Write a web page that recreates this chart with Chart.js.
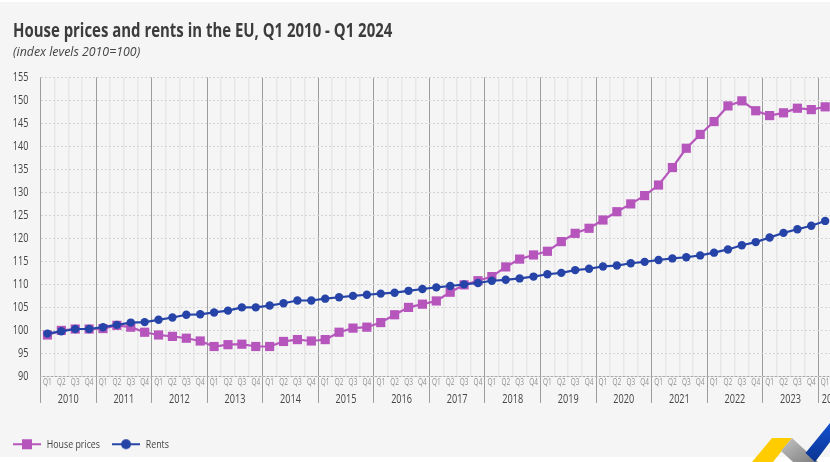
<!DOCTYPE html>
<html><head><meta charset="utf-8">
<script src="https://cdn.jsdelivr.net/npm/chart.js@4"></script>
<style>
html,body{margin:0;padding:0;width:830px;height:462px;overflow:hidden;background:#fff}
#bg{position:absolute;left:0;top:2px;width:830px;height:455px;background:#f5f5f5}
#c{position:absolute;left:0;top:0}
#logo{position:absolute;left:740px;top:420px}
</style></head><body>
<div id="bg"></div>
<canvas id="c" width="860" height="462" style="width:860px;height:462px"></canvas>
<svg id="logo" width="90" height="42" viewBox="740 420 90 42">
<defs>
<linearGradient id="g" x1="0" y1="0" x2="1" y2="1"><stop offset="0" stop-color="#c4c4c4"/><stop offset="1" stop-color="#7d7d7d"/></linearGradient>
<linearGradient id="b" x1="0" y1="0" x2="0" y2="1"><stop offset="0" stop-color="#1450d2"/><stop offset="1" stop-color="#0a3590"/></linearGradient>
</defs>
<polygon points="772,438 792,438 773,462 752,462" fill="#ffcc00"/>
<polygon points="792,438 818,462 793,462 781,451" fill="url(#g)"/>
<polygon points="805.5,453 830,423 830,442 815,462" fill="url(#b)"/>
</svg>
<script>
const quarterLabels = ['Q1','Q2','Q3','Q4'];
const years = [2010,2011,2012,2013,2014,2015,2016,2017,2018,2019,2020,2021,2022,2023,2024];
const yearQuarters = [4,4,4,4,4,4,4,4,4,4,4,4,4,4,2];
const housePrices = [99.0,100.0,100.3,100.3,100.4,101.1,100.7,99.6,
 99.0,98.7,98.3,97.7,96.5,96.9,97.0,96.5,
 96.5,97.6,98.0,97.7,98.0,99.6,100.5,100.7,
 101.7,103.4,105.0,105.7,106.4,108.3,109.9,110.8,
 111.7,113.8,115.5,116.4,117.2,119.3,121.1,122.2,
 124.0,125.8,127.5,129.3,131.6,135.4,139.6,142.6,
 145.4,148.8,149.9,147.75,146.7,147.3,148.3,148.0,148.6];
const rents = [99.3,99.8,100.3,100.3,100.7,101.2,101.7,101.8,
 102.3,102.8,103.4,103.5,103.9,104.3,105.0,105.0,
 105.4,105.9,106.5,106.5,106.9,107.2,107.5,107.75,
 108.0,108.2,108.6,109.0,109.35,109.65,110.0,110.3,
 110.8,111.0,111.3,111.7,112.2,112.5,113.1,113.4,
 113.9,114.1,114.6,114.9,115.3,115.65,115.9,116.3,
 116.9,117.6,118.5,119.2,120.2,121.2,122.0,122.75,123.8];
const labels = [];
yearQuarters.forEach(n=>{for(let i=0;i<n;i++)labels.push(quarterLabels[i]);});
const FONT = '"Open Sans","Noto Sans",sans-serif';
const HOUSE='#b656bd', RENT='#2644a7';

// Condense every text horizontally (the reference uses a condensed face that is not installed)
const canvas=document.getElementById('c'), c2d=canvas.getContext('2d');
const CONDENSE=f=>/bold|700/.test(f)?0.747:(/italic/.test(f)?0.915:0.76);
const rawFill=c2d.fillText.bind(c2d), rawMeasure=c2d.measureText.bind(c2d);
c2d.fillText=function(t,x,y){const k=CONDENSE(c2d.font);c2d.save();c2d.translate(x,y);c2d.scale(k,1);rawFill(t,0,0);c2d.restore();};
c2d.measureText=function(t){const m=rawMeasure(t);return {width:m.width*CONDENSE(c2d.font),actualBoundingBoxAscent:m.actualBoundingBoxAscent,actualBoundingBoxDescent:m.actualBoundingBoxDescent};};

function legendMark(color,style){
  const s=document.createElement('canvas'); s.width=28; s.height=12;
  const x=s.getContext('2d');
  x.strokeStyle=color; x.fillStyle=color; x.lineWidth=2;
  x.beginPath(); x.moveTo(0,6); x.lineTo(28,6); x.stroke();
  if(style==='rect'){x.fillRect(9,1,10,10);} else {x.beginPath();x.arc(14,6,5,0,Math.PI*2);x.fill();}
  return s;
}
const yearLabelPlugin={id:'yearLabels',
 afterLayout(chart){chart.legend.left=1;},
 afterDraw(chart){
  const sx=chart.scales.x,ctx=chart.ctx; let start=0;
  ctx.save(); ctx.font='12px '+FONT; ctx.fillStyle='#444'; ctx.textAlign='center'; ctx.textBaseline='middle';
  years.forEach((y,i)=>{
    const n=yearQuarters[i];
    const cx=(sx.getPixelForValue(start)+sx.getPixelForValue(start+n-1))/2;
    ctx.fillText(String(y),cx,sx.top+23);
    start+=n;
  });
  ctx.restore();
}};
new Chart(canvas,{
  type:'line',
  data:{labels,datasets:[
    {label:'House prices',data:housePrices,order:2,borderColor:HOUSE,backgroundColor:HOUSE,borderWidth:2.2,pointStyle:'rect',pointRadius:6.5,pointHoverRadius:6.5,pointBorderWidth:0,tension:0,clip:false},
    {label:'Rents',data:rents,order:1,borderColor:RENT,backgroundColor:RENT,borderWidth:2.2,pointStyle:'circle',pointRadius:4.2,pointHoverRadius:4.2,pointBorderWidth:0,tension:0,clip:false}
  ]},
  plugins:[yearLabelPlugin],
  options:{
    responsive:false,animation:false,devicePixelRatio:1,
    layout:{padding:{left:13,right:14,top:19,bottom:2}},
    plugins:{
      title:{display:true,text:'House prices and rents in the EU, Q1 2010 - Q1 2024',align:'start',color:'#3c3c3c',font:{family:FONT,size:20,weight:'bold',lineHeight:1.2},padding:{top:0,bottom:1}},
      subtitle:{display:true,text:'(index levels 2010=100)',align:'start',color:'#444',font:{family:FONT,size:13.5,style:'italic',lineHeight:1.2},padding:{top:0,bottom:17.2}},
      legend:{display:true,position:'bottom',align:'start',
        labels:{color:'#444',font:{family:FONT,size:11.6},usePointStyle:true,pointStyleWidth:28,boxHeight:12,padding:12,
          generateLabels(chart){return chart.data.datasets.map((d,i)=>({text:d.label,fontColor:'#444',pointStyle:legendMark(d.borderColor,i===0?'rect':'circle'),lineWidth:0,strokeStyle:'transparent',fillStyle:d.borderColor,datasetIndex:i}));}
        }},
      tooltip:{enabled:false}
    },
    scales:{
      x:{type:'category',offset:true,
        afterFit(s){s.height=50;},
        grid:{offset:true,drawOnChartArea:true,drawTicks:true,tickLength:26.5,lineWidth:c=>c.index%4===0?1:1.5,
          color:c=>c.index%4===0?'#9c9c9c':'#e7e7e7',tickColor:c=>c.index%4===0?'#9c9c9c':'transparent'},
        border:{display:true,color:'#a8a8a8'},
        ticks:{autoSkip:false,maxRotation:0,minRotation:0,padding:-25.5,color:'#8f8f8f',font:{family:FONT,size:8.5}}
      },
      y:{type:'linear',min:90,max:155,
        afterFit(s){s.width=27.5;},
        grid:{drawTicks:false,color:'#d4d4d4',lineWidth:1,z:0},
        border:{display:false,dash:[2,2]},
        ticks:{stepSize:5,padding:12,color:'#444',font:{family:FONT,size:12}}
      }
    }
  }
});
</script>
</body></html>
